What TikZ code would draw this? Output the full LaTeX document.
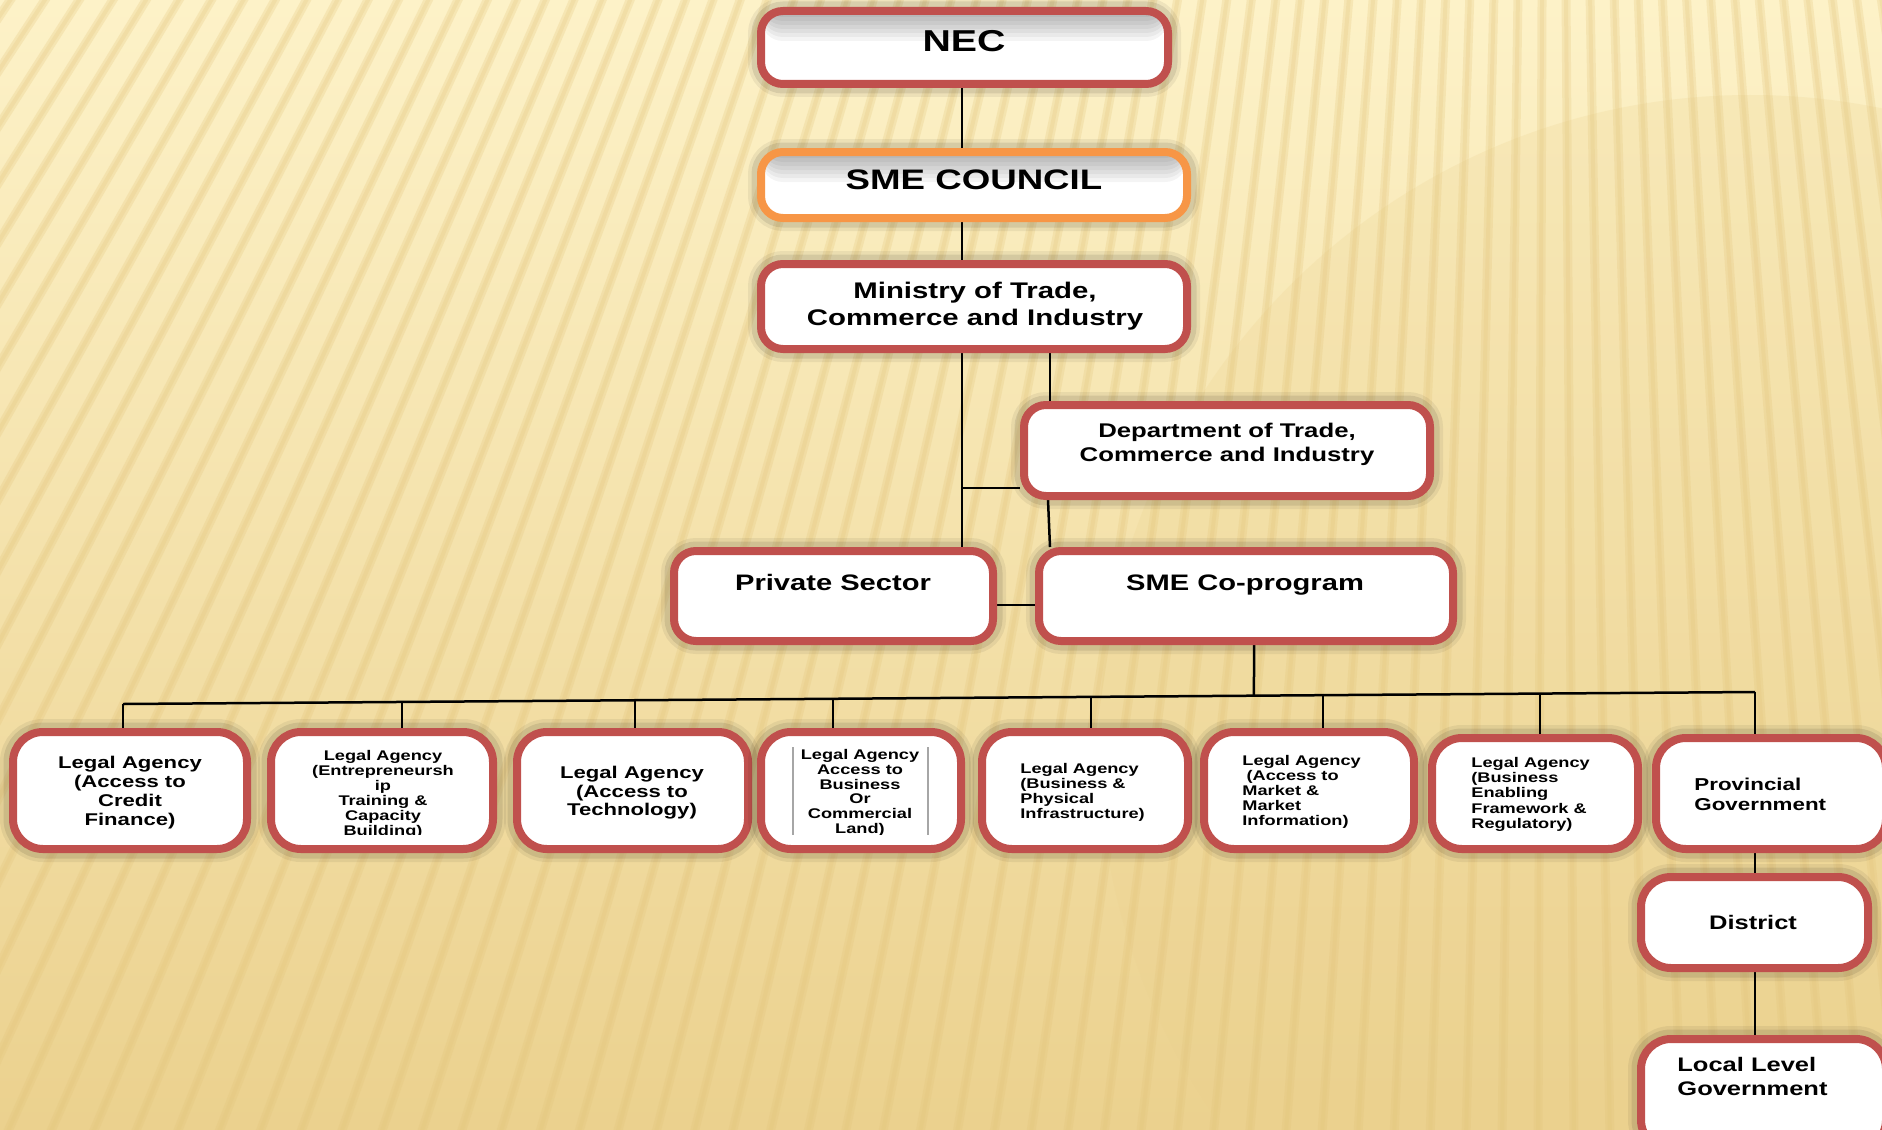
\documentclass[tikz,border=0pt]{standalone}
\usepackage{fontspec}
\newfontfamily\arb{Liberation Sans}[FakeStretch=1.3]
\usetikzlibrary{calc,fit}
\definecolor{boxred}{HTML}{C0504D}
\definecolor{boxorange}{HTML}{F79646}
\definecolor{bgtop}{HTML}{FDF2C8}
\definecolor{bgmid}{HTML}{F9E8B2}
\definecolor{bgbot}{HTML}{EBD18E}
\definecolor{stripe}{HTML}{E3C47A}
\newcommand\myfs[2]{\arb\bfseries\fontsize{#1}{#2}\selectfont}
\pgfdeclarelayer{back}
\pgfdeclarelayer{lines}
\pgfsetlayers{back,lines,main}
\begin{document}
\begin{tikzpicture}[x=0.5pt,y=-0.5pt,
  box/.style={draw=boxred, line width=4pt, fill=white, rounded corners=11pt, inner sep=0pt,
    preaction={draw=black, line width=13pt, opacity=0.06},
    preaction={draw=black, line width=9.5pt, opacity=0.09}},
  lowbox/.style={box, rounded corners=15pt},
  topshade/.style={path picture={\foreach \h in {3,5,...,15} {\fill[black, opacity=0.045] (path picture bounding box.north west) rectangle ([yshift=-\h pt]path picture bounding box.north east);}}},
  conn/.style={line width=1.25pt, black},
  lbl/.style={inner sep=0pt, text=black},
]
\useasboundingbox (0,0) rectangle (1882,1129);

% background
\begin{pgfonlayer}{back}
  \shade[top color=bgtop, middle color=bgmid, bottom color=bgbot] (0,0) rectangle (1882,1129);
  \begin{scope}
    \clip (0,0) rectangle (1882,1129);
    \fill[bgbot, opacity=0.22] (1750,746) circle[radius=651];
    \coordinate (C) at (1550,-2300);
    \foreach \a in {80,80.6,...,127} {
      \draw[stripe, line width=4.5pt, opacity=0.25] (C) -- ++(\a:5200);
      \draw[stripe, line width=2pt, opacity=0.22] (C) -- ++(\a:5200);
    }
  \end{scope}
\end{pgfonlayer}

% boxes
\node[box, topshade, fit={(761,11) (1168,84)}] (nec) {};
\node[box, draw=boxorange, topshade, fit={(761,152) (1187,218)}] (smec) {};
\node[box, fit={(761,264) (1187,349)}] (mtci) {};
\node[box, fit={(1024,405) (1430,496)}] (dtci) {};
\node[box, fit={(674,551) (993,641)}] (priv) {};
\node[box, fit={(1039,551) (1453,641)}] (smecp) {};
\node[lowbox, fit={(13,732) (247,849)}] (la1) {};
\node[lowbox, fit={(271,732) (493,849)}] (la2) {};
\node[lowbox, fit={(517,732) (748,849)}] (la3) {};
\node[lowbox, fit={(761,732) (961,849)}] (la4) {};
\node[lowbox, fit={(982,732) (1188,849)}] (la5) {};
\node[lowbox, fit={(1204,732) (1414,849)}] (la6) {};
\node[lowbox, fit={(1432,738) (1638,849)}] (la7) {};
\node[lowbox, fit={(1656,738) (1886,849)}] (prov) {};
\node[lowbox, fit={(1641,877) (1868,968)}] (dist) {};
\node[lowbox, fit={(1641,1039) (1886,1150)}] (llg) {};

% texts
\node[lbl, font=\myfs{15.1}{18}] (necT) at (964,41) {NEC};
\node[lbl, font=\myfs{14.1}{17}] (smecT) at (974,180) {SME COUNCIL};
\node[lbl, font=\myfs{11.3}{13.6}, align=center] (mtciT) at (975,306.5) {Ministry of Trade,\\Commerce and Industry};
\node[lbl, font=\myfs{9.9}{12.3}, align=center] (dtciT) at (1227,444.5) {Department of Trade,\\Commerce and Industry};
\node[lbl, font=\myfs{11.2}{13}] (privT) at (833,582.5) {Private Sector};
\node[lbl, font=\myfs{11.2}{13}] (smecpT) at (1245,585) {SME Co-program};
\node[lbl, font=\myfs{8.5}{9.5}, align=center] (la1T) at (130,793) {Legal Agency\\(Access to\\Credit\\Finance)};
\begin{scope}
  \clip (271,740) rectangle (493,834);
  \node[lbl, font=\myfs{7}{7.5}, align=center, anchor=north] (la2T) at (383,750) {Legal Agency\\(Entrepreneursh\\ip\\Training \&\\Capacity\\Building)};
\end{scope}
\node[lbl, font=\myfs{8.5}{9.2}, align=center] (la3T) at (632,793) {Legal Agency\\(Access to\\Technology)};
\draw[black!35, line width=1pt] (793,747) -- (793,835);
\draw[black!35, line width=1pt] (928,747) -- (928,835);
\begin{scope}
  \clip (761,740) rectangle (961,834);
  \node[lbl, font=\myfs{7}{7.4}, align=center, anchor=north] (la4T) at (860,749) {Legal Agency\\Access to\\Business\\Or\\Commercial\\Land)};
\end{scope}
\node[lbl, font=\myfs{7}{7.5}, align=left, anchor=north west] (la5T) at (1020,763) {Legal Agency\\(Business \&\\Physical\\Infrastructure)};
\node[lbl, font=\myfs{7}{7.5}, align=left, anchor=north west] (la6T) at (1242,755) {Legal Agency\\\hspace{0.3em}(Access to\\Market \&\\Market\\Information)};
\node[lbl, font=\myfs{7}{7.6}, align=left, anchor=north west] (la7T) at (1471,757) {Legal Agency\\(Business\\Enabling\\Framework \&\\Regulatory)};
\node[lbl, font=\myfs{8.6}{10}, align=left, anchor=west] (provT) at (1694,794.5) {Provincial\\Government};
\node[lbl, font=\myfs{9.8}{11.5}] (distT) at (1753,922.5) {District};
\node[lbl, font=\myfs{9.8}{12}, align=left, anchor=west] (llgT) at (1677,1076) {Local Level\\Government};

% connectors
\begin{pgfonlayer}{lines}
  \coordinate (tr) at (962,0);
  \coordinate (tr2) at (1050,0);
  \coordinate (tr3) at (1254,0);
  \coordinate (hj) at (962,488);
  \coordinate (ps) at (0,605);
  \coordinate (busL) at (123,704);
  \coordinate (busR) at (1755,692);
  \draw[conn] (tr |- nec.south) -- (tr |- smec.north);
  \draw[conn] (tr |- smec.south) -- (tr |- mtci.north);
  \draw[conn] (tr |- mtci.south) -- (tr |- priv.north);
  \draw[conn] (tr2 |- mtci.south) -- (tr2 |- dtci.north);
  \draw[conn] (hj) -- (hj -| dtci.west);
  \draw[conn] ([xshift=-1pt]tr2 |- dtci.south) -- (tr2 |- smecp.north);
  \draw[conn] (ps -| priv.east) -- (ps -| smecp.west);
  \draw[conn] (tr3 |- smecp.south) -- ($(busL)!0.693!(busR)$);
  \draw[conn] (busL) -- (busR);
  \draw[conn] (busL) -- (busL |- la1.north);
  \coordinate (t2) at ($(busL)!0.1710!(busR)$);
  \coordinate (t3) at ($(busL)!0.3137!(busR)$);
  \coordinate (t4) at ($(busL)!0.4350!(busR)$);
  \coordinate (t5) at ($(busL)!0.5931!(busR)$);
  \coordinate (t6) at ($(busL)!0.7353!(busR)$);
  \coordinate (t7) at ($(busL)!0.8683!(busR)$);
  \draw[conn] (t2) -- (t2 |- la2.north);
  \draw[conn] (t3) -- (t3 |- la3.north);
  \draw[conn] (t4) -- (t4 |- la4.north);
  \draw[conn] (t5) -- (t5 |- la5.north);
  \draw[conn] (t6) -- (t6 |- la6.north);
  \draw[conn] (t7) -- (t7 |- la7.north);
  \draw[conn] (busR) -- (busR |- prov.north);
  \draw[conn] (busR |- prov.south) -- (busR |- dist.north);
  \draw[conn] (busR |- dist.south) -- (busR |- llg.north);
\end{pgfonlayer}
\end{tikzpicture}
\end{document}
